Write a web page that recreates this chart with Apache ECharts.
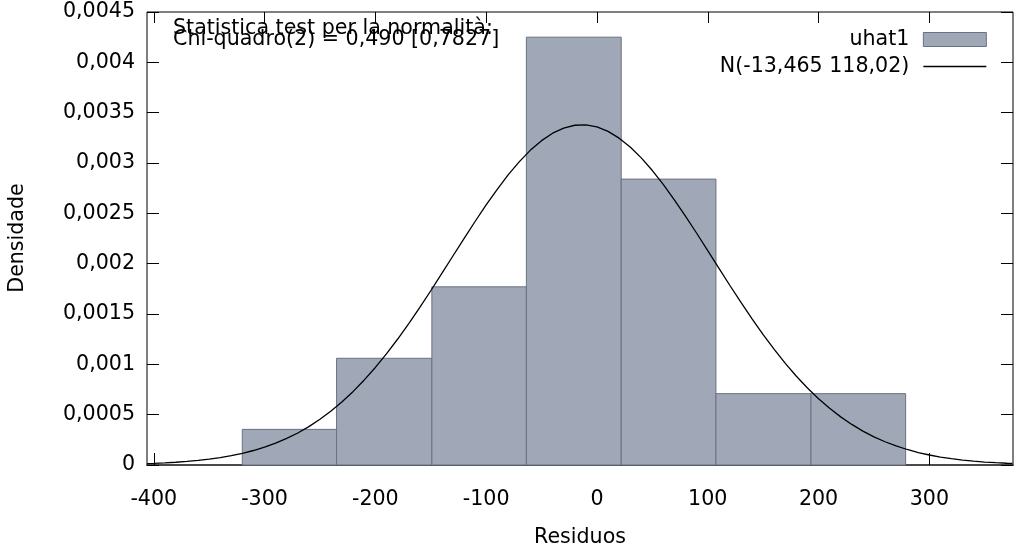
<!DOCTYPE html>
<html>
<head>
<meta charset="utf-8">
<script src="https://cdn.jsdelivr.net/npm/echarts@6/dist/echarts.min.js"></script>
<style>
html,body{margin:0;padding:0;background:#fff;}
#chart{width:1024px;height:547px;}
</style>
</head>
<body>
<div id="chart"></div>
<script>
// Histogram bins (residual ranges) and densities
const binStart = [-320.1, -235.0, -149.0, -63.7, 21.9, 107.4, 193.2];
const binEnd   = [-235.0, -149.0, -63.7, 21.9, 107.4, 193.2, 278.6];
const density  = [0.000354, 0.00106, 0.00177, 0.00425, 0.00284, 0.000709, 0.000709];

// Normal curve N(-13,465 118,02): x positions and density
const curveX = [-406, -400, -390, -380, -370, -360, -350, -340, -330, -320, -310, -300, -290, -280, -270, -260, -250, -240, -230, -220, -210, -200, -190, -180, -170, -160, -150, -140, -130, -120, -110, -100, -90, -80, -70, -60, -50, -40, -30, -20, -10, 0, 10, 20, 30, 40, 50, 60, 70, 80, 90, 100, 110, 120, 130, 140, 150, 160, 170, 180, 190, 200, 210, 220, 230, 240, 250, 260, 270, 280, 290, 300, 310, 320, 330, 340, 350, 360, 370, 375];
const curveY = [0.0000134, 0.0000159, 0.0000208, 0.0000272, 0.0000353, 0.0000454, 0.0000580, 0.0000736, 0.0000927, 0.000116, 0.000144, 0.000177, 0.000217, 0.000264, 0.000318, 0.000381, 0.000454, 0.000536, 0.000628, 0.000731, 0.000845, 0.000969, 0.001104, 0.001249, 0.001403, 0.001564, 0.001731, 0.001903, 0.002076, 0.002249, 0.002419, 0.002584, 0.002739, 0.002884, 0.003014, 0.003128, 0.003222, 0.003296, 0.003347, 0.003375, 0.003379, 0.003358, 0.003314, 0.003247, 0.003159, 0.003051, 0.002925, 0.002785, 0.002632, 0.002470, 0.002302, 0.002129, 0.001956, 0.001783, 0.001615, 0.001451, 0.001295, 0.001148, 0.001010, 0.000882, 0.000765, 0.000659, 0.000563, 0.000478, 0.000403, 0.000337, 0.000280, 0.000231, 0.000189, 0.000154, 0.000124, 0.0000994, 0.0000791, 0.0000624, 0.0000490, 0.0000381, 0.0000295, 0.0000226, 0.0000173, 0.0000150];

const xTicks = [-400, -300, -200, -100, 0, 100, 200, 300];
const histName = 'uhat1';
const curveName = 'N(-13,465 118,02)';
const xTitle = 'Residuos';
const yTitle = 'Densidade';
const note1 = 'Statistica test per la normalità:';
const note2 = 'Chi-quadro(2) = 0,490 [0,7827]';

const FONT = 'DejaVu Sans';
const FS = 20.6;

const histData = binStart.map((s, i) => [s, binEnd[i], density[i]]);
const curveData = curveX.map((x, i) => [x, curveY[i]]);

const fmtY = v => {
  const r = Math.round(v * 1e5) / 1e5;
  return String(r).replace('.', ',');
};

const chart = echarts.init(document.getElementById('chart'));
const xMin = -406.1, xMax = 375.5;

chart.setOption({
  animation: false,
  backgroundColor: '#fff',
  textStyle: { fontFamily: FONT },
  grid: { left: 147, right: 11, top: 12, bottom: 82, show: true, borderColor: '#000', borderWidth: 1, backgroundColor: 'transparent' },
  legend: {
    orient: 'vertical',
    right: 37,
    top: 29,
    padding: 0,
    align: 'right',
    itemWidth: 63,
    itemHeight: 14,
    itemGap: 6,
    textStyle: { fontFamily: FONT, fontSize: FS, color: '#000', padding: [0, 9, 0, 0] },
    data: [
      { name: histName, icon: 'rect', itemStyle: { color: '#a0a8b8', borderColor: '#6a7282', borderWidth: 1 } },
      { name: curveName, itemStyle: { opacity: 0 }, lineStyle: { color: '#000', width: 1.3 } }
    ]
  },
  xAxis: [
    {
      type: 'value', min: xMin, max: xMax, position: 'bottom',
      axisLine: { show: true, onZero: false, lineStyle: { color: '#4a4a4a', width: 2 } },
      splitLine: { show: false },
      axisTick: { show: true, inside: true, length: 12, customValues: xTicks, lineStyle: { color: '#000' } },
      axisLabel: { customValues: xTicks, margin: 24, fontFamily: FONT, fontSize: FS, color: '#000' }
    },
    {
      type: 'value', min: xMin, max: xMax, position: 'top',
      axisLine: { show: false, onZero: false },
      splitLine: { show: false },
      axisTick: { show: true, inside: true, length: 11, customValues: xTicks, lineStyle: { color: '#000' } },
      axisLabel: { show: false }
    }
  ],
  yAxis: [
    {
      type: 'value', min: 0, max: 0.0045, interval: 0.0005, position: 'left',
      axisLine: { show: false, onZero: false },
      splitLine: { show: false },
      axisTick: { show: true, inside: true, length: 12, lineStyle: { color: '#000' } },
      axisLabel: { margin: 12, fontFamily: FONT, fontSize: FS, color: '#000', formatter: fmtY, padding: [8, 0, 0, 0] }
    },
    {
      type: 'value', min: 0, max: 0.0045, interval: 0.0005, position: 'right',
      axisLine: { show: false, onZero: false },
      splitLine: { show: false },
      axisTick: { show: true, inside: true, length: 12, lineStyle: { color: '#000' } },
      axisLabel: { show: false }
    }
  ],
  series: [
    {
      name: histName,
      type: 'custom',
      xAxisIndex: 0, yAxisIndex: 0,
      data: histData,
      encode: { x: [0, 1], y: 2 },
      itemStyle: { color: '#a0a8b8' },
      renderItem: function (params, api) {
        const p0 = api.coord([api.value(0), api.value(2)]);
        const p1 = api.coord([api.value(1), 0]);
        return {
          type: 'rect',
          shape: { x: p0[0], y: p0[1], width: p1[0] - p0[0], height: p1[1] - p0[1] },
          style: { fill: '#a0a8b8', stroke: '#6a7282', lineWidth: 1 }
        };
      }
    },
    {
      name: curveName,
      type: 'line',
      xAxisIndex: 0, yAxisIndex: 0,
      data: curveData,
      smooth: false,
      symbol: 'none',
      lineStyle: { color: '#000', width: 1.3 },
      itemStyle: { color: '#000' },
      z: 5
    }
  ],
  graphic: [
    { type: 'text', x: 173, y: 28.5, style: { text: note1, fontFamily: FONT, fontSize: FS, fill: '#000', verticalAlign: 'middle' } },
    { type: 'text', x: 173, y: 39.5, style: { text: note2, fontFamily: FONT, fontSize: FS, fill: '#000', verticalAlign: 'middle' } },
    { type: 'text', x: 580, y: 538, style: { text: xTitle, fontFamily: FONT, fontSize: FS, fill: '#000', align: 'center', verticalAlign: 'middle' } },
    { type: 'text', x: 18, y: 238, rotation: Math.PI / 2, style: { text: yTitle, fontFamily: FONT, fontSize: FS, fill: '#000', align: 'center', verticalAlign: 'middle' } }
  ]
});
</script>
</body>
</html>
